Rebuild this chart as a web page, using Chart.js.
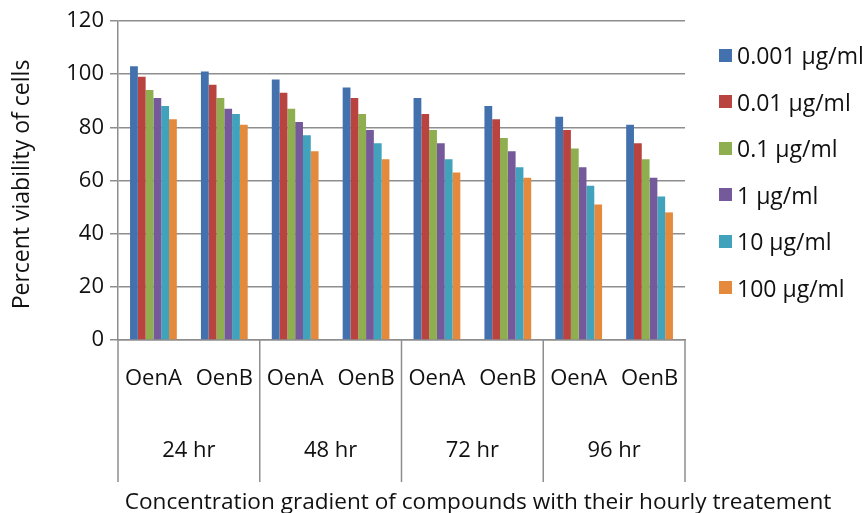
<!DOCTYPE html>
<html>
<head>
<meta charset="utf-8">
<title>Percent viability of cells</title>
<script src="https://cdn.jsdelivr.net/npm/chart.js@4.4.1/dist/chart.umd.min.js"></script>
<style>
  html, body { margin: 0; padding: 0; background: #fff; }
  #wrap { position: relative; width: 868px; height: 513px; }
  #legend { position: absolute; left: 719px; top: 32px; font-family: 'Open Sans', sans-serif; }
</style>
</head>
<body>
<div id="wrap">
  <canvas id="viabilityChart" width="868" height="513"></canvas>
  <div id="legend"></div>
</div>
<script>
// Подписи категорий
const compounds = ['OenA', 'OenB', 'OenA', 'OenB', 'OenA', 'OenB', 'OenA', 'OenB'];
const hours = ['24 hr', '48 hr', '72 hr', '96 hr'];
const concentrations = ['0.001 µg/ml', '0.01 µg/ml', '0.1 µg/ml', '1 µg/ml', '10 µg/ml', '100 µg/ml'];

// Процент жизнеспособности клеток для каждой концентрации
const conc0001 = [103, 101, 98, 95, 91, 88, 84, 81];
const conc001 = [99, 96, 93, 91, 85, 83, 79, 74];
const conc01 = [94, 91, 87, 85, 79, 76, 72, 68];
const conc1 = [91, 87, 82, 79, 74, 71, 65, 61];
const conc10 = [88, 85, 77, 74, 68, 65, 58, 54];
const conc100 = [83, 81, 71, 68, 63, 61, 51, 48];

const yTicks = [0, 20, 40, 60, 80, 100, 120];

const colors = ['#4371AE', '#B9433F', '#8EAE4F', '#74599B', '#41A2BB', '#E5893C'];
const gridColor = '#8e8e8e';
const textColor = '#111';
const fontFamily = "'Open Sans', sans-serif";
const xTitle = 'Concentration gradient of compounds with their hourly treatement';
const yTitle = 'Percent viability of cells';

function createCustomLegend(legendId, labels, colors) {
  const legendContainer = document.getElementById(legendId);
  if (!legendContainer) return;

  legendContainer.innerHTML = '';

  labels.forEach((name, index) => {
    const legendItem = document.createElement('div');
    legendItem.style.display = 'flex';
    legendItem.style.alignItems = 'center';
    legendItem.style.height = '46.5px';

    // Цветной квадрат
    const colorBox = document.createElement('span');
    colorBox.style.display = 'inline-block';
    colorBox.style.width = '13px';
    colorBox.style.height = '13px';
    colorBox.style.marginRight = '5px';
    colorBox.style.backgroundColor = colors[index];

    const legendText = document.createElement('span');
    legendText.textContent = name;
    legendText.style.fontSize = '23px';
    legendText.style.color = textColor;

    legendItem.appendChild(colorBox);
    legendItem.appendChild(legendText);
    legendContainer.appendChild(legendItem);
  });
}

// Вертикальные разделители между группами по времени и подписи осей
const groupDividers = {
  id: 'groupDividers',
  afterDraw(chart) {
    const scale = chart.scales.xTime;
    const { ctx, chartArea } = chart;
    const step = scale.width / hours.length;
    ctx.save();
    ctx.strokeStyle = gridColor;
    ctx.lineWidth = 1.5;
    for (let i = 0; i <= hours.length; i++) {
      const x = scale.left + step * i;
      ctx.beginPath();
      ctx.moveTo(x, chartArea.bottom);
      ctx.lineTo(x, scale.top + 62);
      ctx.stroke();
    }

    ctx.fillStyle = textColor;
    ctx.font = `22.6px ${fontFamily}`;
    ctx.textAlign = 'center';
    ctx.textBaseline = 'alphabetic';
    ctx.fillText(xTitle, chartArea.left + 360, scale.bottom - 4);

    // Подпись оси Y, повернутая на 90°
    ctx.font = `23px ${fontFamily}`;
    ctx.textBaseline = 'middle';
    ctx.translate(22, (chartArea.top + chartArea.bottom) / 2 + 4);
    ctx.rotate(-Math.PI / 2);
    ctx.fillText(yTitle, 0, 0);
    ctx.restore();
  },
};

function createBarChart(canvasId, legendId) {
  const ctx = document.getElementById(canvasId).getContext('2d');
  const series = [conc0001, conc001, conc01, conc1, conc10, conc100];

  createCustomLegend(legendId, concentrations, colors);

  new Chart(ctx, {
    type: 'bar',
    data: {
      labels: compounds,
      datasets: series.map((values, i) => ({
        label: concentrations[i],
        data: values,
        backgroundColor: colors[i],
        borderWidth: 0,
        categoryPercentage: 0.66,
        barPercentage: 1.0,
      })),
    },
    options: {
      responsive: false,
      animation: false,
      devicePixelRatio: 1,
      layout: { padding: { top: 21, right: 183, bottom: 0, left: 0 } },
      plugins: {
        legend: { display: false },
        tooltip: { enabled: false },
      },
      scales: {
        x: {
          grid: { display: false, drawTicks: false },
          border: { color: gridColor, width: 1.5 },
          ticks: { color: textColor, font: { family: fontFamily, size: 22 }, padding: 26 },
          afterFit: (s) => { s.height = 80; },
        },
        xTime: {
          type: 'category',
          labels: hours,
          position: 'bottom',
          offset: true,
          grid: { display: false, drawTicks: false },
          border: { display: false },
          ticks: { color: textColor, font: { family: fontFamily, size: 22 }, padding: 18 },
          afterFit: (s) => { s.height = 93; },
        },
        y: {
          min: 0,
          max: 120,
          afterBuildTicks: (s) => { s.ticks = yTicks.map((v) => ({ value: v })); },
          grid: { color: gridColor, lineWidth: 1.5, tickLength: 8 },
          border: { color: gridColor, width: 1.5 },
          ticks: { color: textColor, font: { family: fontFamily, size: 22 }, padding: 6 },
          afterFit: (s) => { s.width = 118; },
        },
      },
    },
    plugins: [groupDividers],
  });
}

createBarChart('viabilityChart', 'legend');
</script>
</body>
</html>
